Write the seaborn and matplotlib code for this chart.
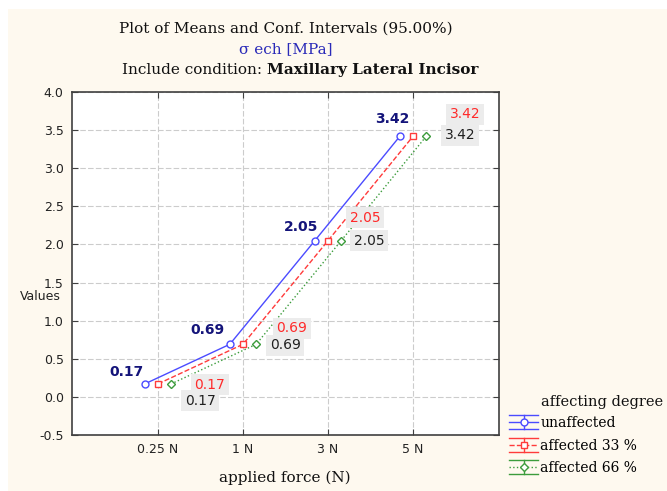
import matplotlib
matplotlib.use("Agg")
import matplotlib.pyplot as plt
from matplotlib.patches import Rectangle
from matplotlib.lines import Line2D
from matplotlib.legend_handler import HandlerBase
import numpy as np
import pandas as pd
import seaborn as sns

# ---- data ----
forces = ["0.25 N", "1 N", "3 N", "5 N"]
groups = ["unaffected", "affected 33 %", "affected 66 %"]
unaffected = [0.17, 0.69, 2.05, 3.42]
affected33 = [0.17, 0.69, 2.05, 3.42]
affected66 = [0.17, 0.69, 2.05, 3.42]
yticks = [-0.5, 0.0, 0.5, 1.0, 1.5, 2.0, 2.5, 3.0, 3.5, 4.0]

series = {groups[0]: unaffected, groups[1]: affected33, groups[2]: affected66}
df = pd.DataFrame([(f, g, v) for g, vals in series.items() for f, v in zip(forces, vals)],
                  columns=["force", "group", "value"])

# ---- style ----
line_colors = ["#4b4bff", "#ff3b3b", "#3c9c3c"]
markers = ["o", "s", "D"]
lstyles = ["-", "--", ":"]
msizes = [5.0, 5.0, 3.6]
SERIF = ["DejaVu Serif"]
SANS = ["DejaVu Sans"]

W, H = 667, 491
fig = plt.figure(figsize=(W / 100, H / 100), dpi=100, facecolor="white")
fig.patches.append(Rectangle((8 / W, 0), 1 - 8 / W, 1 - 9 / H, transform=fig.transFigure,
                             facecolor="#fef9ef", edgecolor="none", zorder=-10))
ax = fig.add_axes([72 / W, 56 / H, 427 / W, 343 / H])
ax.set_facecolor("white")

sns.pointplot(data=df, x="force", y="value", hue="group", order=forces, hue_order=groups,
              palette=line_colors, markers=markers, linestyles=lstyles, dodge=0.31,
              errorbar=None, ax=ax, legend=False)

for ln, ms in zip(ax.lines, msizes):
    ln.set_markerfacecolor("white")
    ln.set_markeredgewidth(1.0)
    ln.set_markersize(ms)
    ln.set_linewidth(1.0)
    ln.set_zorder(3)

ax.set_xlim(-1.01, 4.01)
ax.set_ylim(-0.5, 4.0)
ax.set_yticks(yticks)
ax.set_yticklabels([f"{t:.1f}" for t in yticks])
ax.set_xlabel("")
ax.set_ylabel("")
ax.grid(True, color="#cccccc", linestyle=(0, (5, 2)), linewidth=0.8)
ax.set_axisbelow(True)
for s in ax.spines.values():
    s.set_color("#404040")
    s.set_linewidth(1.2)
ax.tick_params(direction="in", length=4, width=0.8, color="#404040", top=True, right=True,
               labelsize=9, labelcolor="#222222", pad=6)
for lab in ax.get_xticklabels() + ax.get_yticklabels():
    lab.set_fontfamily(SANS)

# ---- value labels ----
dodge_off = [-0.155, 0.0, 0.155]
label_offsets = [
    [(-18, 12), (-22, 14), (-14, 14), (-8, 17)],
    [(52, -1), (49, 16), (37, 23), (52, 22)],
    [(29, -17), (29, -1), (28, 0), (34, 1)],
]
label_styles = [
    dict(color="#14147a", fontweight="bold", bbox=None),
    dict(color="#ff2a2a", fontweight="normal",
         bbox=dict(boxstyle="square,pad=0.25", facecolor="#ececec", edgecolor="none")),
    dict(color="#202020", fontweight="normal",
         bbox=dict(boxstyle="square,pad=0.25", facecolor="#ececec", edgecolor="none")),
]
for gi, g in enumerate(groups):
    for i, v in enumerate(series[g]):
        dx, dy = label_offsets[gi][i]
        st = label_styles[gi]
        ax.annotate(f"{v:.2f}", xy=(i + dodge_off[gi], v), xytext=(dx, dy),
                    textcoords="offset pixels", ha="center", va="center",
                    fontsize=10, family=SANS, color=st["color"],
                    fontweight=st["fontweight"], bbox=st["bbox"], zorder=5)

# ---- titles ----
fig.text(286 / W, 1 - 29 / H, "Plot of Means and Conf. Intervals (95.00%)", ha="center",
         va="center", fontsize=11, family=SERIF, color="#111111")
fig.text(286 / W, 1 - 49 / H, "σ ech [MPa]", ha="center", va="center", fontsize=11,
         family=SERIF, color="#2a2ab8")
fig.text(262 / W, 1 - 70 / H, "Include condition:", ha="right", va="center", fontsize=11,
         family=SERIF, color="#111111")
fig.text(267 / W, 1 - 70 / H, "Maxillary Lateral Incisor", ha="left", va="center",
         fontsize=11, family=SERIF, fontweight="bold", color="#111111")
fig.text(40 / W, 1 - 296 / H, "Values", ha="center", va="center", fontsize=9,
         family=SANS, color="#222222")
fig.text(285 / W, 1 - 478 / H, "applied force (N)", ha="center", va="center", fontsize=11,
         family=SERIF, color="#111111")


# ---- legend ----
class ErrBarHandler(HandlerBase):
    def create_artists(self, legend, orig_handle, xdescent, ydescent, width, height,
                       fontsize, trans):
        c = orig_handle.get_color()
        ls = orig_handle.get_linestyle()
        mk = orig_handle.get_marker()
        ms = orig_handle.get_markersize()
        x0, x1 = -xdescent, -xdescent + width
        yc = -ydescent + height / 2
        cap = 5.0
        arts = [
            Line2D([x0, x1], [yc + cap, yc + cap], color=c, lw=1.0),
            Line2D([x0, x1], [yc - cap, yc - cap], color=c, lw=1.0),
            Line2D([x0, x1], [yc, yc], color=c, lw=1.0, linestyle=ls),
            Line2D([(x0 + x1) / 2] * 2, [yc - cap, yc + cap], color=c, lw=1.0),
            Line2D([(x0 + x1) / 2], [yc], color=c, marker=mk, markersize=ms,
                   markerfacecolor="white", markeredgewidth=1.0, linestyle="none"),
        ]
        for a in arts:
            a.set_transform(trans)
        return arts


handles = [Line2D([], [], color=c, linestyle=l, marker=m, markersize=s)
           for c, l, m, s in zip(line_colors, lstyles, markers, msizes)]
fig.text(541 / W, 1 - 402 / H, "affecting degree", ha="left", va="center", fontsize=10.5,
         family=SERIF, color="#111111")
leg = fig.legend(handles, groups, loc="upper left", bbox_to_anchor=(509 / W, 1 - 416 / H),
                 frameon=False, handler_map={Line2D: ErrBarHandler()},
                 prop=dict(family=SERIF, size=10), handlelength=2.1, handletextpad=0.15,
                 labelspacing=0.62, borderaxespad=0, borderpad=0)

fig.savefig("out.png", dpi=100, facecolor=fig.get_facecolor())
